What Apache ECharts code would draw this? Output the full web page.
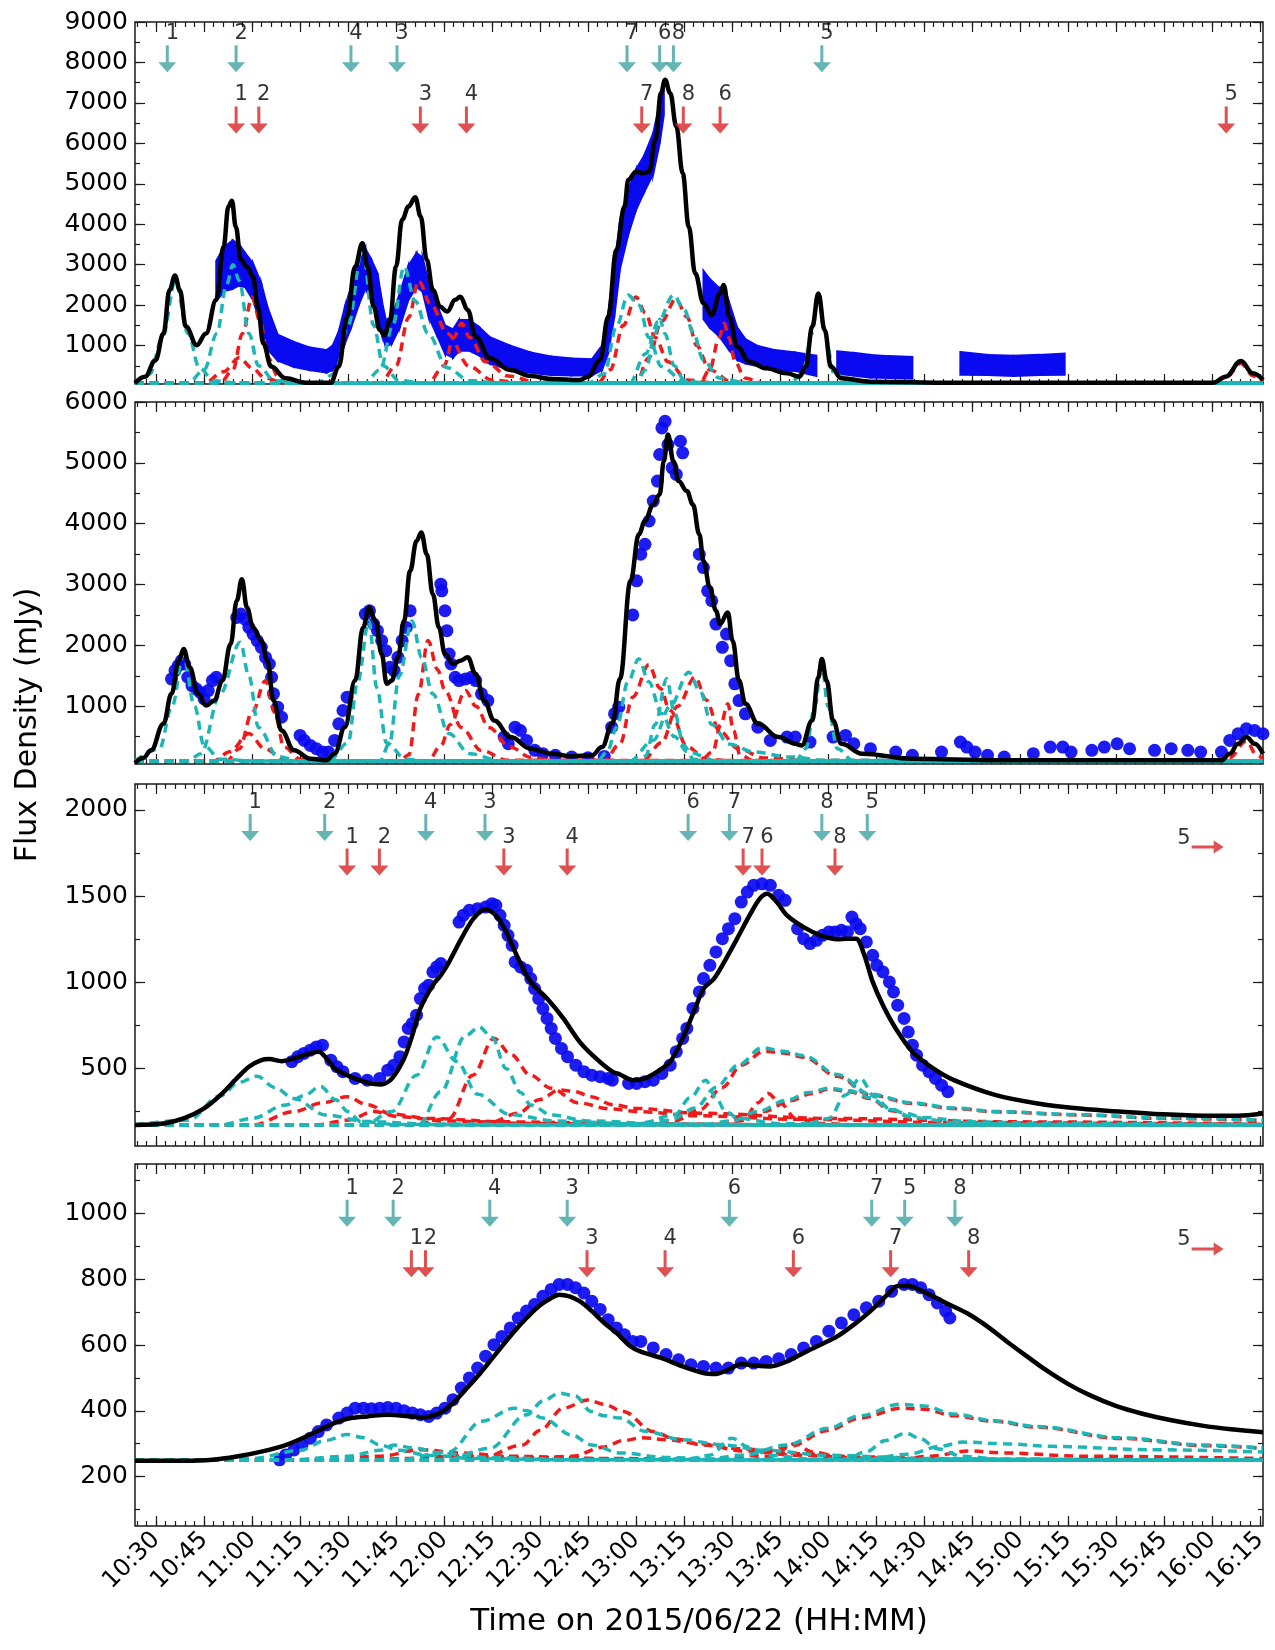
<!DOCTYPE html>
<html><head><meta charset="utf-8">
<script src="https://cdn.jsdelivr.net/npm/echarts@6/dist/echarts.min.js"></script>
<style>html,body{margin:0;padding:0;background:#fff}#c{width:1275px;height:1650px}</style>
</head><body><div id="c"></div><script>
// ---------- DATA (time in minutes after midnight) ----------
const xTickMinutes = [630,645,660,675,690,705,720,735,750,765,780,795,810,825,840,855,870,885,900,915,930,945,960,975];
const p1YTicks = [1000,2000,3000,4000,5000,6000,7000,8000,9000];
const p2YTicks = [1000,2000,3000,4000,5000,6000];
const p3YTicks = [500,1000,1500,2000];
const p4YTicks = [200,400,600,800,1000];

// Panel 1 : fit, components, data band [t, value, half error]
const p1Fit = [[623.4,70],[626.5,230],[629.8,640],[632.3,1300],[634.2,2375],[635.9,2730],[637.4,2375],[639.3,1470],[642.7,1010],[645.6,1300],[648.8,2130],[651.1,3450],[652.6,4440],[653.7,4580],[654.9,3940],[656.5,3120],[658.4,2950],[660.3,2700],[661.8,1960],[663.5,1055],[666,480],[670.5,190],[676.9,80],[684.6,80],[687.1,480],[689.7,1715],[692.2,2950],[694.5,3530],[696.1,2950],[698,1960],[699.9,1385],[701.4,1260],[703.1,1630],[705,2950],[706.9,4110],[708.9,4440],[711,4670],[712.7,4190],[714.6,3120],[716.5,2375],[718.8,1960],[721,1840],[723.5,2130],[725.1,2210],[727.4,1880],[729.9,1220],[734.4,685],[740.7,395],[747.1,247],[753.5,173],[762.4,148],[765,230],[768.8,645],[771.3,1715],[773.9,3365],[776.4,4440],[777.6,5100],[780,5300],[782.2,5260],[784.1,5300],[786.1,6090],[787.8,7240],[789.1,7570],[790.7,7240],[792.6,6420],[794.6,5260],[796.5,3940],[798.5,2790],[801.1,2045],[803.7,1757],[806.3,2290],[807.4,2500],[809.2,1715],[811.6,975],[815.5,600],[820.7,437],[827.2,313],[831.1,230],[833.1,480],[835.1,1470],[837,2290],[839,1385],[840.9,480],[844.2,190],[853.3,107],[879.4,80],[918.6,80],[960.4,80],[964.3,230],[969.1,620],[972.8,313],[976,148]];
const p1Cyan = [
 [[623.4,70],[628,300],[632,1200],[636,2600],[640,1300],[643.5,450],[648,130],[656,70],[976,70]],
 [[623.4,70],[640,70],[645,400],[649,1300],[652,2500],[654,3000],[656,2600],[659,1300],[662,500],[667,130],[675,70],[976,70]],
 [[623.4,70],[680,70],[686,300],[690,1500],[694.5,3400],[698,1500],[701,500],[706,130],[715,70],[976,70]],
 [[623.4,70],[695,70],[700,400],[704,1500],[707.5,2950],[711,2100],[715,1300],[721,450],[728,130],[738,70],[976,70]],
 [[623.4,70],[765,70],[770,300],[774,1500],[777.5,2250],[781,2000],[784,1200],[788,480],[795,110],[805,70],[976,70]],
 [[623.4,70],[780,70],[783,400],[786,1300],[787.5,1650],[789,1300],[792,500],[795,150],[800,70],[976,70]],
 [[623.4,70],[778,70],[783,800],[787,1600],[791.7,2250],[795,1900],[798,1300],[801,650],[806,200],[815,70],[976,70]],
 [[623.4,70],[828,70],[832,300],[835,1300],[837,2280],[839,1300],[842,300],[848,70],[976,70]]
];
const p1Red = [
 [[623.4,70],[645,70],[651,350],[656,700],[660,450],[664,200],[670,70],[976,70]],
 [[623.4,70],[650,70],[654,400],[657,1300],[660,2200],[662.5,1600],[665,700],[668,250],[675,70],[976,70]],
 [[623.4,70],[700,70],[705,500],[709,1700],[712,2600],[716,2000],[721,1300],[728,480],[735,150],[745,70],[976,70]],
 [[623.4,70],[715,70],[720,500],[723,1200],[725.5,1550],[728,1200],[733,600],[740,250],[750,70],[976,70]],
 [[623.4,70],[768,70],[772,400],[776,1500],[780,2200],[783,1800],[786,1200],[790,600],[796,150],[805,70],[976,70]],
 [[623.4,70],[780,70],[784,700],[788,1600],[792.5,2150],[796,1700],[799,1000],[803,400],[810,100],[820,70],[976,70]],
 [[623.4,70],[800,70],[803,400],[806,1200],[807.6,1550],[809,1200],[811,600],[814,200],[820,70],[976,70]],
 [[623.4,70],[960,70],[965,250],[969,560],[973,250],[976,110]]
];
const p1BandA = [[648.8,2600,500],[651.4,2900,550],[653.9,3000,600],[655.8,3000,520],[657.8,2870,420],[660.3,2580,450],[662.9,2000,530],[664.8,1430,520],[668,950,320],[673.1,780,310],[678.2,670,280],[683.3,610,280],[685.2,700,300],[687.1,1000,350],[689,1500,450],[691,1960,500],[693.5,2540,500],[695.4,2900,500],[697.3,2620,500],[699.2,2290,500],[700.5,1715,420],[701.8,1300,330],[703.7,1385,330],[706.2,1880,420],[708.8,2540,420],[711.4,2870,420],[713.3,2750,420],[715.2,2130,420],[717.7,1650,380],[720.3,1150,350],[722.8,1050,350],[724.7,1250,380],[728,1250,380],[731.1,1100,350],[734.3,880,330],[740.7,700,300],[747.1,580,250],[753.5,500,230],[759.8,470,210],[766.2,460,200],[769.4,700,300],[771.3,1300,500],[773.2,2300,600],[775,3500,600],[777.6,4300,550],[780,4850,500],[782.6,5250,450],[785.4,5750,500],[787.4,6500,500],[788.7,7000,300]];
const p1BandB = [[801.1,2250,600],[803,2050,600],[806.3,1800,600],[809,1500,600],[811.6,1050,400],[814.2,860,300],[818.1,740,250],[823.3,640,250],[829.8,600,230],[836.4,500,250]];
const p1BandC = [[842.9,580,280],[848,540,280],[853.3,490,280],[859,470,270],[866.4,450,270]];
const p1BandD = [[881.4,560,280],[890,520,250],[898,500,250],[906,520,250],[914,540,260]];

// Panel 2
const p2Fit = [[623.4,66],[626,150],[628.4,274],[632.3,711],[634.8,1203],[637.1,1749],[638.6,1940],[640.5,1640],[643.1,1203],[645.6,1011],[648.2,1093],[650.7,1421],[653.3,2022],[655.2,2733],[656.8,3088],[658.4,2623],[660.3,2295],[662.9,2077],[664.8,1749],[666.7,1093],[669.2,602],[673.1,274],[678.2,137],[683.3,110],[685.8,219],[689,656],[692.2,1421],[694.7,2295],[696.6,2623],[698.6,2405],[700.5,1858],[702.1,1367],[703.7,1421],[705.6,1804],[707.5,2405],[709.4,3224],[711.4,3716],[712.9,3853],[714.6,3498],[716.5,2842],[718.4,2295],[720.3,1858],[722.9,1694],[725.1,1749],[727.4,1804],[729.9,1530],[732.5,1093],[735.7,765],[740.8,492],[747.1,301],[753.5,219],[759.8,176],[766.2,192],[769.4,328],[772.6,711],[775,1450],[778.3,3060],[780.9,3825],[782.8,4044],[785.4,4317],[787.4,4481],[788.7,5027],[790,5465],[791.7,5027],[793.3,4700],[795.9,4536],[797.8,4317],[799.8,3825],[801.1,3388],[803.1,2951],[805,2569],[806.3,2350],[808.7,2541],[810.2,2077],[812.2,1421],[814.2,1039],[818.1,711],[824.6,492],[829.8,383],[831.8,356],[835.1,765],[837,1476],[838.1,1776],[839.6,1421],[841.6,765],[844.2,383],[850.7,219],[866.4,137],[892.5,110],[963,110],[965.6,219],[968.2,383],[970.8,492],[973.4,383],[976,219]];
const p2Cyan = [
 [[623.4,100],[631,300],[635,1000],[638.5,1850],[642,1000],[645,350],[650,130],[660,100],[976,100]],
 [[623.4,100],[640,100],[644,220],[650,1200],[656.3,2050],[659,1500],[662,650],[668,170],[675,100],[976,100]],
 [[623.4,100],[684,100],[690,400],[693,1400],[696.5,2400],[699,1300],[702,400],[708,130],[715,100],[976,100]],
 [[623.4,100],[700,100],[703,400],[706,1500],[710,2400],[713,1800],[716.5,1200],[721.5,550],[728,220],[738,100],[976,100]],
 [[623.4,100],[768,100],[771,250],[774,660],[777.5,1400],[780.9,1780],[784,1400],[788,880],[792,500],[796,250],[805,100],[976,100]],
 [[623.4,100],[780,100],[783,180],[786,700],[789.6,1450],[792,900],[795,350],[798,130],[803,100],[976,100]],
 [[623.4,100],[778,100],[785.4,440],[790.7,1000],[796.5,1560],[800,1250],[803.7,700],[809,380],[816.8,250],[827,170],[840,110],[976,100]],
 [[623.4,100],[830,100],[833,300],[836,1000],[838,1750],[840,1000],[843,300],[848,100],[976,100]]
];
const p2Red = [
 [[623.4,100],[648,100],[653,250],[659,550],[664,300],[670,130],[678,100],[976,100]],
 [[623.4,100],[652,100],[656,300],[660,900],[664.2,1420],[667,900],[670,330],[675,130],[683,100],[976,100]],
 [[623.4,100],[706,100],[709,200],[712,1200],[715,2080],[718,1600],[720.3,1260],[725.4,650],[731.7,270],[740,110],[976,100]],
 [[623.4,100],[715,100],[719,350],[722,700],[726.7,1260],[730,1000],[734,650],[740.7,330],[747,160],[755,100],[976,100]],
 [[623.4,100],[770,100],[775,380],[779,1150],[784,1680],[787.5,1300],[790.7,930],[796,330],[802,130],[810,100],[976,100]],
 [[623.4,100],[782,100],[788,400],[793,1000],[798.5,1480],[802,1100],[806,600],[812,300],[820,150],[835,100],[976,100]],
 [[623.4,100],[800,100],[804,250],[806.5,700],[808.7,1040],[810.5,600],[812.5,200],[817,100],[976,100]],
 [[623.4,100],[960,100],[965.5,150],[970.8,430],[974,200],[976,130]]
];
const p2Data = [[634.8,1449],[635.9,1585],[636.9,1667],[637.9,1749],[638.9,1694],[639.9,1476],[641.2,1339],[642.5,1285],[643.7,1230],[645,1121],[646.3,1257],[647.6,1421],[648.8,1476],[655.2,2459],[656.5,2514],[657.8,2432],[659,2295],[660.3,2186],[661.6,2077],[662.9,1968],[664.2,1804],[665.4,1694],[666.1,1476],[666.7,1203],[668,984],[669.2,820],[675,520],[676.3,438],[678.2,356],[680.1,301],[682,246],[683.9,246],[685.8,438],[687.1,711],[688.4,929],[689.7,1148],[695.4,2514],[696.7,2569],[698,2350],[699.2,2241],[700.5,2077],[701.8,1913],[703.1,1640],[704.4,1585],[705.6,1804],[706.9,2077],[708.2,2295],[709.4,2569],[719,3006],[719.3,2897],[720.3,2569],[720.9,2241],[721.6,1858],[722.2,1694],[723.5,1476],[724.7,1421],[726.7,1449],[728.5,1476],[729.9,1421],[731.7,1203],[733.7,1093],[738.8,492],[740.1,383],[742.2,656],[743.9,601],[745.8,438],[748.4,274],[750.9,219],[754.8,192],[759.9,164],[765,153],[770.1,175],[772.4,656],[773.3,875],[774.6,984],[779,2500],[780.2,3060],[781.5,3498],[782.8,3661],[784.1,4044],[785.4,4372],[786.7,4700],[787.4,5137],[788.1,5574],[789.1,5683],[790,5300],[791.3,4918],[792.6,4810],[793.9,5355],[794.6,5164],[799.8,3498],[801.1,3279],[802.4,2896],[803.7,2733],[805,2350],[807,1967],[808.3,2186],[809.6,1749],[810.9,1367],[812.2,1093],[814.2,874],[818.1,656],[822,437],[827.2,492],[829.8,492],[834.4,410],[841.6,492],[845.5,520],[848.1,383],[853.3,301],[861.2,246],[866.4,192],[875.5,246],[881.4,410],[883.4,328],[886,246],[889.9,192],[895.1,164],[904.2,219],[909.5,328],[913.4,328],[916,246],[922.5,274],[926.4,328],[930.4,383],[934.3,301],[942.1,274],[947.3,301],[952.5,274],[956.5,246],[963,246],[965.6,437],[968.2,547],[970.8,629],[973.4,601],[976,547]];

// Panel 3
const p3Fit = [[623.4,172],[632.3,181],[638.6,210],[645,268],[650.1,345],[655.2,442],[659,510],[662.9,548],[665.4,554],[669.2,542],[673.1,558],[678.2,587],[680.8,597],[683.3,558],[685.8,500],[689.7,461],[693.5,432],[697.3,413],[700.5,407],[703.7,442],[707.5,558],[710.1,693],[712.6,848],[716.5,983],[719,1041],[721.6,1118],[725.4,1253],[729.2,1369],[733,1423],[736.2,1388],[739.4,1292],[743.2,1137],[747.1,1002],[752.2,905],[757.3,790],[762.4,654],[767.5,558],[772.6,481],[775,465],[778.9,432],[782.8,442],[786.7,481],[790.7,539],[794.6,674],[798.5,848],[801.1,963],[804.4,1021],[807.6,1118],[811.6,1253],[815.5,1388],[818.7,1485],[821,1514],[824,1465],[827.2,1388],[832.4,1320],[837.7,1272],[842.9,1249],[846.1,1253],[848.8,1253],[851.4,1156],[854,1002],[857.2,867],[861.2,732],[866.4,597],[872.9,500],[879.4,432],[892.5,345],[905.5,297],[918.6,268],[931.7,249],[944.7,234],[957.8,226],[968.2,226],[976,239]];
const p3Cyan = [
 [[623.4,172],[640,200],[650,340],[656,420],[661.6,455],[667,390],[673,326],[683,230],[696,192],[715,178],[760,172],[976,172]],
 [[623.4,172],[650,172],[660,210],[670.5,288],[676,340],[681.4,395],[686,320],[690,250],[694,192],[705,175],[730,172],[976,172]],
 [[623.4,172],[695,172],[703.7,250],[711.4,460],[717.7,683],[724,540],[730.5,350],[740.7,232],[755,195],[780,178],[820,172],[976,172]],
 [[623.4,172],[712,172],[719,365],[726.7,690],[731,740],[735,680],[739.4,500],[744,360],[747.1,288],[753.5,230],[765,195],[790,178],[830,172],[976,172]],
 [[623.4,172],[780,172],[792,230],[797,330],[801.8,432],[805,330],[808,250],[812,210],[825,180],[850,172],[976,172]],
 [[623.4,172],[775,172],[790.7,200],[798.5,270],[805,390],[812,520],[819.4,620],[826,600],[832.4,575],[842.9,465],[853.3,350],[866.4,300],[879.4,270],[892.5,250],[918.6,232],[944.7,212],[976,200]],
 [[623.4,172],[800,172],[810,195],[818,250],[827,315],[834,360],[840.3,385],[847,370],[853,330],[860,260],[866.4,215],[880,185],[900,175],[976,172]],
 [[623.4,172],[832,172],[840.3,210],[845.5,346],[850.1,442],[854.6,336],[859,270],[864,240],[870,215],[885,190],[910,180],[976,175]]
];
const p3Red = [
 [[623.4,172],[660,172],[673,249],[682,300],[689.7,336],[696,290],[703.7,235],[715,210],[740,190],[780,178],[850,172],[976,172]],
 [[623.4,172],[680,172],[690,200],[698,250],[706,220],[720,195],[750,180],[800,172],[976,172]],
 [[623.4,172],[710,172],[721.6,210],[729,460],[735.6,675],[741,580],[747,460],[753.5,385],[762,300],[772,265],[781,249],[800,225],[830,205],[880,185],[976,175]],
 [[623.4,172],[725,172],[735,190],[743,240],[750,320],[756,375],[761,365],[766,336],[772.6,290],[780,268],[800,240],[840,210],[900,190],[976,178]],
 [[623.4,172],[805,172],[814,210],[818,300],[821.3,355],[825,300],[830,210],[838,180],[850,172],[976,172]],
 [[623.4,172],[780,172],[792,195],[800,260],[807,390],[813,520],[820,600],[826,590],[832.4,565],[842.9,455],[853.3,345],[866.4,297],[879.4,267],[892.5,248],[918.6,230],[944.7,210],[976,198]],
 [[623.4,172],[802,172],[812,195],[820,250],[828,312],[835,355],[840.3,380],[847,365],[853,325],[860,255],[866.4,212],[880,182],[976,172]]
];
const p3Data = [[672.4,539],[674.3,568],[676.2,587],[678.2,606],[680.1,625],[682,635],[684.6,548],[686.5,510],[688.4,481],[692.2,442],[696,432],[699.9,442],[702.4,490],[704.3,519],[706.2,568],[707.5,654],[708.8,732],[710.1,761],[711.4,809],[712.6,905],[713.9,963],[715.2,983],[716.5,1060],[717.7,1089],[719,1108],[724.7,1349],[726,1388],[727.9,1417],[730.5,1427],[733,1436],[735,1456],[736.2,1446],[737.5,1388],[738.8,1330],[740,1272],[741.3,1214],[742.2,1118],[743.9,1089],[745.8,1069],[747.1,1021],[748.3,963],[749.6,905],[750.9,847],[752.2,790],[753.5,732],[754.8,674],[756.7,616],[758.6,568],[761.2,519],[763.7,481],[766.2,461],[768.8,452],[771.3,442],[772.6,432],[777.7,413],[780.2,413],[782.8,423],[785.4,432],[788.1,471],[790.7,519],[792.6,597],[794.6,674],[795.9,732],[797.8,848],[799.8,944],[801.1,1021],[803.1,1098],[805,1176],[807,1253],[808.9,1311],[810.9,1369],[812.9,1465],[814.8,1523],[816.8,1562],[819.4,1571],[822,1562],[824.6,1504],[826.6,1475],[830.5,1311],[832.4,1253],[834.4,1224],[836.4,1243],[838.3,1272],[840.3,1291],[842.2,1291],[844.2,1301],[846.1,1291],[847.5,1378],[848.8,1340],[850.1,1311],[852,1234],[854,1156],[855.3,1098],[857.2,1060],[859.2,1002],[860.5,944],[861.8,867],[863.8,790],[865.1,712],[866.4,635],[867.7,577],[869.6,519],[871.6,481],[873.6,442],[875.5,403],[877.5,365]];

// Panel 4
const p4Fit = [[623.4,248],[638.6,248],[647.6,251],[655.2,261],[662.9,276],[670.5,296],[676.9,322],[683.3,352],[687.1,368],[690.9,378],[696,383],[702.4,388],[706.2,386],[710.1,383],[713.3,380],[716.5,385],[719.6,398],[722.8,423],[726.7,464],[730.5,505],[734.3,550],[738.1,596],[742,642],[745.8,682],[749.6,718],[753.5,743],[756,753],[759.2,748],[762.4,733],[766.2,703],[770.1,667],[773.9,637],[778,598],[781.5,580],[788.1,560],[794.6,535],[801.1,515],[805,512],[808.9,525],[812.9,542],[816.8,538],[822,535],[827.2,550],[832.4,576],[837.7,601],[842.9,626],[848.1,662],[853.3,703],[858.6,753],[861.8,779],[865.1,779],[870.3,760],[876.8,728],[883.4,697],[890,655],[896,610],[902,567],[908,525],[915,482],[922,447],[930,415],[938,392],[947,372],[957,355],[966,344],[976,335]];
const p4Cyan = [
 [[623.4,250],[640,250],[660,255],[675,280],[683,310],[689.7,328],[695,318],[700,296],[706,280],[715,265],[730,255],[760,251],[976,250]],
 [[623.4,250],[670,250],[690,262],[700,280],[704.3,296],[710,288],[720,270],[735,258],[760,252],[976,250]],
 [[623.4,250],[705,250],[721.6,276],[731.7,368],[742,408],[746,400],[750.9,378],[759.8,327],[766.2,296],[775,272],[790,258],[810,252],[976,250]],
 [[623.4,250],[720,250],[734.3,286],[745.8,388],[751,430],[756,454],[761,445],[766,398],[770,385],[775,378],[782.8,338],[794.6,312],[807.6,296],[820,280],[840,265],[870,255],[900,251],[976,250]],
 [[623.4,250],[795,250],[803,265],[810,317],[815,290],[822,265],[835,253],[976,250]],
 [[623.4,250],[800,250],[814,266],[827,296],[840,347],[850,385],[862.5,420],[870,415],[879.4,390],[892,370],[905.5,352],[931.7,318],[957.8,296],[976,287]],
 [[623.4,250],[845,250],[852,276],[858,310],[864.4,332],[869,315],[874,285],[882,262],[895,252],[976,250]],
 [[623.4,250],[850,250],[865,268],[875,292],[882,305],[895,300],[910,292],[940,282],[976,275]]
];
const p4Red = [
 [[623.4,250],[680,250],[700,262],[712.6,282],[725,272],[740,262],[770,255],[820,251],[976,250]],
 [[623.4,250],[690,250],[710,255],[722,262],[735,260],[760,255],[800,251],[976,250]],
 [[623.4,250],[730,250],[744.5,296],[750,340],[757.3,408],[765,433],[770,420],[776,398],[785.4,337],[792,315],[801,296],[814,278],[830,265],[850,257],[880,252],[976,250]],
 [[623.4,250],[740,250],[760,262],[770,290],[776,310],[782,318],[790,312],[800,300],[812,285],[830,270],[850,260],[880,253],[976,250]],
 [[623.4,250],[815,250],[822,262],[829.8,300],[835,275],[845,258],[860,251],[976,250]],
 [[623.4,250],[805,250],[816,264],[828,292],[840,340],[850,378],[863,408],[870,405],[879.4,385],[892,368],[905.5,350],[931.7,316],[957.8,294],[976,286]],
 [[623.4,250],[860,250],[872,262],[884,278],[895,272],[920,262],[976,255]]
];
const p4Data = [[668.6,251],[670.5,266],[673.1,281],[675.6,296],[678.2,317],[680.7,337],[683.3,357],[687.1,378],[689.7,393],[692.2,408],[694.8,408],[697.3,406],[699.9,408],[702.4,410],[705,408],[707.5,400],[710.1,393],[712.6,388],[715.2,383],[717.7,393],[720.3,408],[722.8,434],[725.4,469],[727.9,500],[730.5,530],[733,566],[735.6,601],[738.1,626],[740.7,652],[743.2,682],[745.8,703],[748.3,723],[750.9,748],[753.5,769],[756,784],[758.6,784],[761.1,774],[763.7,758],[766.2,733],[768.8,708],[771.3,677],[773.9,652],[776.4,631],[779,611],[781.5,611],[785.4,591],[789.4,571],[793.3,555],[797.2,540],[801.1,535],[805,530],[808.9,530],[812.9,545],[816.8,545],[820.7,550],[824.6,558],[828.5,571],[832.4,591],[836.4,611],[840.3,642],[844.2,667],[848.1,692],[852,713],[855.9,733],[859.9,763],[863.8,784],[866.4,784],[869,774],[871.6,753],[874.2,728],[876.8,703],[878.1,682]];

// Arrow annotations (time of arrow, label)
const p1CyanArrowT = [633.5,655,690.9,705.3,777.2,787.4,791.7,838.1];
const p1CyanArrowLbl = ['1','2','4','3','7','6','8','5'];
const p1RedArrowT = [655,662.1,712.6,727,781.8,794.8,806.3,964.5];
const p1RedArrowLbl = ['1','2','3','4','7','8','6','5'];
const p3CyanArrowT = [659.4,682.7,714.3,732.8,796.3,809.2,838.1,852.3];
const p3CyanArrowLbl = ['1','2','4','3','6','7','8','5'];
const p3RedArrowT = [689.7,699.8,738.7,758.5,813.5,819.4,842.2];
const p3RedArrowLbl = ['1','2','3','4','7','6','8'];
const p4CyanArrowT = [689.7,704.1,734.3,758.5,809.2,853.7,864,879.7];
const p4CyanArrowLbl = ['1','2','4','3','6','7','5','8'];
const p4RedArrowT = [709.8,714.2,764.7,789.1,829.2,859.6,884];
const p4RedArrowLbl = ['1','2','3','4','6','7','8'];

// ---------- LAYOUT / STYLE ----------
const X_MIN = 623.4, X_MAX = 976;
const FONT = 'DejaVu Sans';
const CYAN = '#1cb6b6', RED = '#f01a1a', BLUE = '#0a0af0';
const ARROW_CYAN = '#3fa3a3', ARROW_RED = '#d82424';
const panels = [
  {top:22,  ymin:50, ymax:9000, yTicks:p1YTicks, yMinorStep:500, fit:p1Fit, cyan:p1Cyan, red:p1Red, bands:[p1BandA,p1BandB,p1BandC,p1BandD], mono:true,
   arrows:[{t:p1CyanArrowT,l:p1CyanArrowLbl,y:8090,c:ARROW_CYAN},{t:p1RedArrowT,l:p1RedArrowLbl,y:6580,c:ARROW_RED}]},
  {top:402, ymin:50, ymax:6000, yTicks:p2YTicks, yMinorStep:500, fit:p2Fit, cyan:p2Cyan, red:p2Red, points:p2Data, arrows:[], mono:true},
  {top:784, ymin:50, ymax:2150, yTicks:p3YTicks, yMinorStep:250, fit:p3Fit, cyan:p3Cyan, red:p3Red, points:p3Data, mono:false,
   arrows:[{t:p3CyanArrowT,l:p3CyanArrowLbl,y:1897,c:ARROW_CYAN},{t:p3RedArrowT,l:p3RedArrowLbl,y:1697,c:ARROW_RED}], hArrow:{t:958.7,y:1784}},
  {top:1164, ymin:50, ymax:1150, yTicks:p4YTicks, yMinorStep:100, fit:p4Fit, cyan:p4Cyan, red:p4Red, points:p4Data, mono:false,
   arrows:[{t:p4CyanArrowT,l:p4CyanArrowLbl,y:1000,c:ARROW_CYAN},{t:p4RedArrowT,l:p4RedArrowLbl,y:847,c:ARROW_RED}], hArrow:{t:958.7,y:892}}
];

const xMinor = []; for (let v = 624; v <= 975; v += 3) xMinor.push(v);
function fmtTime(v){ const h = Math.floor(v/60 + 1e-6); const m = Math.round(v - h*60); return h + ':' + String(m).padStart(2,'0'); }

const grid = [], xAxis = [], yAxis = [], series = [];
panels.forEach((p, gi) => {
  grid.push({left:135, width:1128, top:p.top, height:362, show:true, borderColor:'#1a1a1a', borderWidth:1.5, backgroundColor:'transparent'});
  const baseX = {type:'value', gridIndex:gi, min:X_MIN, max:X_MAX, axisLine:{show:false}, splitLine:{show:false}};
  const tickStyle = {color:'#1a1a1a', width:1.2};
  [['bottom',xTickMinutes,10,true],['bottom',xMinor,5,false],['top',xTickMinutes,10,false],['top',xMinor,5,false]].forEach(([pos,vals,len,lab]) => {
    xAxis.push(Object.assign({}, baseX, {position:pos,
      axisTick:{show:true, inside:true, length:len, lineStyle:tickStyle, customValues:vals},
      axisLabel:{show: lab && gi === 3, customValues:vals, formatter:fmtTime, rotate:45, fontSize:24, fontFamily:FONT, color:'#000', margin:10}}));
  });
  const yMinor = []; for (let v = p.yMinorStep; v < p.ymax; v += p.yMinorStep) if (v > p.ymin) yMinor.push(v);
  const baseY = {type:'value', gridIndex:gi, min:p.ymin, max:p.ymax, axisLine:{show:false}, splitLine:{show:false}};
  [['left',p.yTicks,10,true],['left',yMinor,5,false],['right',p.yTicks,10,false],['right',yMinor,5,false]].forEach(([pos,vals,len,lab]) => {
    yAxis.push(Object.assign({}, baseY, {position:pos,
      axisTick:{show:true, inside:true, length:len, lineStyle:tickStyle, customValues:vals},
      axisLabel:{show:lab, customValues:vals, formatter:v => String(v), fontSize:25, fontFamily:FONT, color:'#000', margin:7}}));
  });
  const ax = {xAxisIndex:gi*4, yAxisIndex:gi*4};
  if (p.bands) {
    p.bands.forEach(band => {
      series.push(Object.assign({type:'custom', data:band, encode:{x:0,y:1}, clip:true, silent:true, z:2,
        renderItem:function(params, api){
          const i = params.dataIndex; const a = band[i], b = band[i+1];
          if (!b) return null;
          const q1 = api.coord([a[0], a[1]+a[2]]), q2 = api.coord([b[0], b[1]+b[2]]);
          const q3 = api.coord([b[0], b[1]-b[2]]), q4 = api.coord([a[0], a[1]-a[2]]);
          return {type:'polygon', shape:{points:[q1,q2,q3,q4]}, style:{fill:BLUE, stroke:BLUE, lineWidth:2}};
        }}, ax));
    });
  }
  if (p.points) {
    series.push(Object.assign({type:'scatter', data:p.points, symbol:'circle', symbolSize:13, itemStyle:{color:BLUE, opacity:0.92}, silent:true, z:2}, ax));
  }
  const comp = (pts, color) => Object.assign({type:'line', data:pts, showSymbol:false, symbol:'none', smooth:0.35, smoothMonotone:'x', silent:true, z:3,
      lineStyle:{color:color, width:3.5, type:[9,6]}}, ax);
  p.red.forEach(c => series.push(comp(c, RED)));
  p.cyan.forEach(c => series.push(comp(c, CYAN)));
  const fitSeries = {type:'line', data:p.fit, showSymbol:false, symbol:'none', smooth: p.mono ? 0.4 : 0.3, silent:true, z:5,
      lineStyle:{color:'#000', width:4.5}};
  if (p.mono) fitSeries.smoothMonotone = 'x';
  series.push(Object.assign(fitSeries, ax));
  p.arrows.forEach(a => {
    series.push(Object.assign({type:'scatter', silent:true, z:6, clip:false,
      data:a.t.map((t,k) => ({value:[t, a.y], name:a.l[k]})),
      symbol:'path://M7.5,0 L10.5,0 L10.5,17 L18,17 L9,27 L0,17 L7.5,17 Z', symbolSize:[18,27],
      itemStyle:{color:a.c},
      label:{show:true, position:'top', distance:1, offset:[5,0], formatter:'{b}', fontSize:21, fontFamily:FONT, color:'#000'}}, ax));
  });
  if (p.hArrow) {
    series.push(Object.assign({type:'scatter', silent:true, z:6, clip:false,
      data:[{value:[p.hArrow.t, p.hArrow.y], name:'5'}],
      symbol:'path://M0,5 L22,5 L22,0 L32,6.5 L22,13 L22,8 L0,8 Z', symbolSize:[32,13],
      itemStyle:{color:ARROW_RED},
      label:{show:true, position:'left', distance:1, offset:[0,-9], formatter:'{b}', fontSize:21, fontFamily:FONT, color:'#000'}}, ax));
  }
});

const chart = echarts.init(document.getElementById('c'), null, {renderer:'canvas'});
chart.setOption({
  animation:false, backgroundColor:'#fff',
  grid, xAxis, yAxis, series,
  graphic:[
    {type:'text', x:699, y:1622, style:{text:'Time on 2015/06/22 (HH:MM)', font:'31px "DejaVu Sans"', fill:'#000', textAlign:'center', textVerticalAlign:'middle'}},
    {type:'text', x:28, y:725, rotation:Math.PI/2, style:{text:'Flux Density (mJy)', font:'30px "DejaVu Sans"', fill:'#000', textAlign:'center', textVerticalAlign:'middle'}}
  ]
});
</script></body></html>
